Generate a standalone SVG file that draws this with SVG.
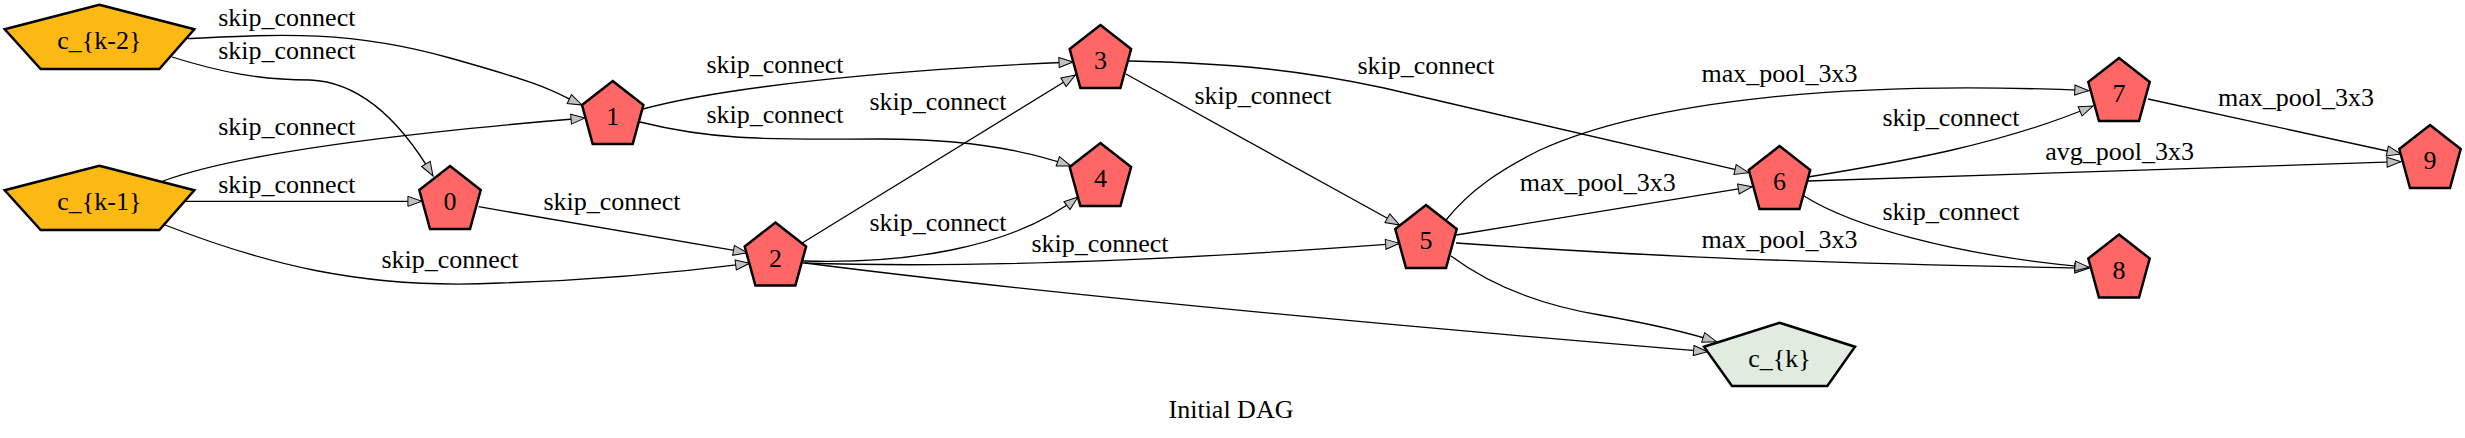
<svg xmlns="http://www.w3.org/2000/svg" width="2465" height="438" viewBox="0 0 2465 438">
<style>
text{font-family:"Liberation Serif","Times New Roman",serif;font-size:26px;fill:#000}
.lbl{text-anchor:middle}
.nd{text-anchor:middle}
.op{fill:#ff6666;stroke:#000;stroke-width:2.5}
.inp{fill:#fdb913;stroke:#000;stroke-width:2.5}
.out{fill:#dfecdf;stroke:#000;stroke-width:2.5}
.e{fill:none;stroke:#000;stroke-width:1.3;marker-end:url(#arr)}
</style>
<defs>
<marker id="arr" markerUnits="userSpaceOnUse" markerWidth="16" markerHeight="12" viewBox="-1 -1 16 12" refX="14" refY="5" orient="auto">
<path d="M0,0 L14,5 L0,10 Z" fill="#c0c0c0" stroke="#000" stroke-width="1"/>
</marker>
<polygon id="pent" points="0,0 30.7,24 20,63 -20,63 -30.7,24"/>
</defs>
<rect width="2465" height="438" fill="#fff"/>
<g id="connectors">
<path class="e" d="M187.5,38.7 C280,34 350,30 450,58 S550,90 582,105"/>
<path class="e" d="M172,57 C220,72 260,80 310,80 C360,82 400,120 433,176"/>
<path class="e" d="M163,181 C220,160 340,138 585,118"/>
<path class="e" d="M184,201.3 L421.9,201.3"/>
<path class="e" d="M165,225 C260,262 360,290 500,283 C600,280 680,272 749.6,263.3"/>
<path class="e" d="M478.6,206.7 L747.3,252.7"/>
<path class="e" d="M643,109 C720,88 880,70 1073,62"/>
<path class="e" d="M640,122 C720,142 780,139 880,139 C960,139 1020,148 1071,166"/>
<path class="e" d="M801.8,243.3 L1075.4,75"/>
<path class="e" d="M803,261 C900,264 1010,250 1078,197"/>
<path class="e" d="M803,263 C950,268 1150,262 1399.6,243.3"/>
<path class="e" d="M805,263 C1000,288 1300,318 1707.6,351.7"/>
<path class="e" d="M1129,61 C1230,63 1300,70 1384,88 L1748.7,172.7"/>
<path class="e" d="M1125.9,74 L1399.6,225"/>
<path class="e" d="M1446,220 C1470,190 1500,170 1540,150 C1650,100 1850,80 2088.8,90.7"/>
<path class="e" d="M1456.25,235 L1752.2,186.7"/>
<path class="e" d="M1456,243 C1600,253 1750,262 2088.8,268.3"/>
<path class="e" d="M1451,256 C1490,285 1540,305 1600,315 C1640,322 1680,330 1716.5,341.7"/>
<path class="e" d="M1808,177 C1900,162 2000,145 2093,106"/>
<path class="e" d="M1808,181 C2000,176 2200,170 2401,161.7"/>
<path class="e" d="M1804,196 C1850,225 1950,255 2089,267.3"/>
<path class="e" d="M2148,99 L2401,154"/>
<text class="lbl" x="286.8" y="26">skip_connect</text>
<text class="lbl" x="286.8" y="59">skip_connect</text>
<text class="lbl" x="286.8" y="135">skip_connect</text>
<text class="lbl" x="286.8" y="192.7">skip_connect</text>
<text class="lbl" x="450" y="268.3">skip_connect</text>
<text class="lbl" x="612" y="210">skip_connect</text>
<text class="lbl" x="775" y="72.7">skip_connect</text>
<text class="lbl" x="775" y="123.3">skip_connect</text>
<text class="lbl" x="938" y="110">skip_connect</text>
<text class="lbl" x="938" y="230.7">skip_connect</text>
<text class="lbl" x="1100" y="252.3">skip_connect</text>
<text class="lbl" x="1263" y="104.3">skip_connect</text>
<text class="lbl" x="1426" y="74">skip_connect</text>
<text class="lbl" x="1779.5" y="81.7">max_pool_3x3</text>
<text class="lbl" x="1597.7" y="190.7">max_pool_3x3</text>
<text class="lbl" x="1779.5" y="248.3">max_pool_3x3</text>
<text class="lbl" x="1951" y="126">skip_connect</text>
<text class="lbl" x="2119.6" y="160">avg_pool_3x3</text>
<text class="lbl" x="1951" y="220">skip_connect</text>
<text class="lbl" x="2296" y="106">max_pool_3x3</text>
</g>
<g id="node-ck2"><polygon class="inp" points="99.3,4.7 194.3,29.3 159.3,69 40.7,69 4.7,29.3"/><text class="nd" x="99.3" y="48.5">c_{k-2}</text></g>
<g id="node-ck1"><polygon class="inp" points="99.3,165.7 194.3,190.3 159.3,230 40.7,230 4.7,190.3"/><text class="nd" x="99.3" y="209.5">c_{k-1}</text></g>
<g id="node-0"><use href="#pent" class="op" x="450" y="166"/><text class="nd" x="450" y="210">0</text></g>
<g id="node-1"><use href="#pent" class="op" x="612.7" y="81"/><text class="nd" x="612.7" y="125">1</text></g>
<g id="node-2"><use href="#pent" class="op" x="775.4" y="222.5"/><text class="nd" x="775.4" y="266.5">2</text></g>
<g id="node-3"><use href="#pent" class="op" x="1100.4" y="25"/><text class="nd" x="1100.4" y="69">3</text></g>
<g id="node-4"><use href="#pent" class="op" x="1100.4" y="143"/><text class="nd" x="1100.4" y="187">4</text></g>
<g id="node-5"><use href="#pent" class="op" x="1426" y="205"/><text class="nd" x="1426" y="249">5</text></g>
<g id="node-6"><use href="#pent" class="op" x="1779.5" y="146"/><text class="nd" x="1779.5" y="190">6</text></g>
<g id="node-7"><use href="#pent" class="op" x="2119" y="58"/><text class="nd" x="2119" y="102">7</text></g>
<g id="node-8"><use href="#pent" class="op" x="2119" y="234.5"/><text class="nd" x="2119" y="278.5">8</text></g>
<g id="node-9"><use href="#pent" class="op" x="2430" y="125"/><text class="nd" x="2430" y="169">9</text></g>
<g id="node-ck"><polygon class="out" points="1779.5,322.7 1855,346.7 1827.3,386 1732,386 1704,346.7"/><text class="nd" x="1779.5" y="366.7">c_{k}</text></g>
<text class="lbl" x="1231" y="418">Initial DAG</text>
</svg>
